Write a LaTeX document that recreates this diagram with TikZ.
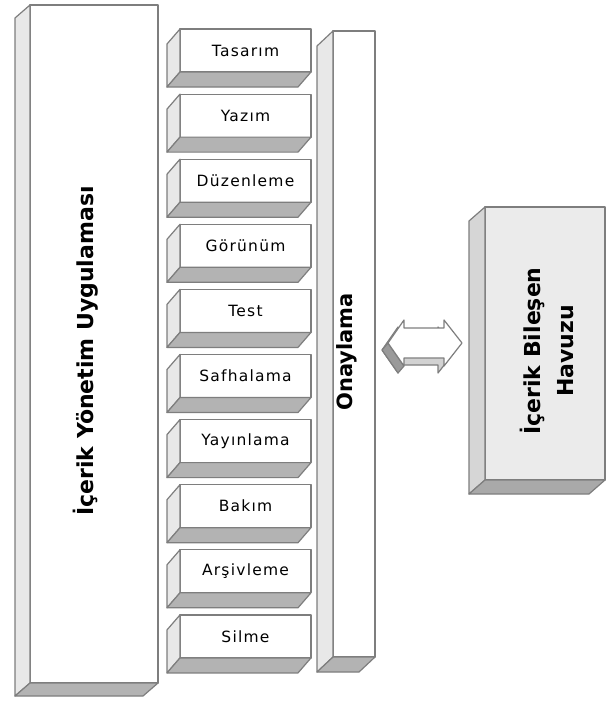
\documentclass[tikz,border=0pt]{standalone}
\usepackage{fontspec}
\setmainfont{DejaVu Sans}
\newfontfamily\lblfont[LetterSpace=8]{DejaVu Sans}
\newfontfamily\ttlfont{DejaVu Sans}
\definecolor{edgec}{HTML}{7E7E7E}
\definecolor{sidec}{HTML}{E8E8E8}
\definecolor{botc}{HTML}{B3B3B3}
\definecolor{poolfront}{HTML}{EBEBEB}
\definecolor{poolside}{HTML}{D6D6D6}
\definecolor{poolbot}{HTML}{A9A9A9}
\definecolor{arrback}{HTML}{D2D2D2}
\definecolor{arrdark}{HTML}{9A9A9A}
\tikzset{
  edge/.style={draw=edgec, line width=1.2pt, line join=round},
  front/.style={edge, fill=white, rectangle, outer sep=0pt, inner sep=0pt},
  smallbox/.style={front, minimum width=131, minimum height=43,
    font=\lblfont\fontsize{15.5}{18}\selectfont},
  bigtext/.style={rotate=90, font=\ttlfont\bfseries\fontsize{22}{33}\selectfont, align=center, inner sep=0pt}
}
\newcommand{\boxdepth}[5]{%
  \filldraw[edge, fill=#4] (#1.north west) -- ([shift={(#2,#3)}]#1.north west)
     -- ([shift={(#2,#3)}]#1.south west) -- (#1.south west) -- cycle;
  \filldraw[edge, fill=#5] (#1.south west) -- ([shift={(#2,#3)}]#1.south west)
     -- ([shift={(#2,#3)}]#1.south east) -- (#1.south east) -- cycle;
}
\begin{document}
\begin{tikzpicture}[x=1pt, y=-1pt]
\useasboundingbox[fill=white] (0,0) rectangle (607,701);

% main application box
\node[front, minimum width=128, minimum height=678] (app) at (94,344) {};
\boxdepth{app}{-15}{13}{sidec}{botc}
\node[bigtext] (apptext) at (86,351) {İçerik Yönetim Uygulaması};

% process steps
\foreach \t [count=\i from 0] in {Tasarım,Yazım,Düzenleme,Görünüm,Test,Safhalama,Yayınlama,Bakım,Arşivleme,Silme}{
  \node[smallbox] (s\i) at (245.5,{50.5+65.1*\i}) {\t};
  \boxdepth{s\i}{-13}{15}{sidec}{botc}
}

% approval column
\node[front, minimum width=42, minimum height=626] (onay) at (354,344) {};
\boxdepth{onay}{-16}{15}{sidec}{botc}
\node[bigtext, font=\ttlfont\bfseries\fontsize{21}{25}\selectfont] (onaytext) at (347,352) {Onaylama};

% component pool
\node[front, fill=poolfront, minimum width=120, minimum height=273] (pool) at (545,343.5) {};
\boxdepth{pool}{-16}{14}{poolside}{poolbot}
\node[bigtext] (pooltext) at (547,351) {İçerik Bileşen\\Havuzu};

% 3D double arrow
\coordinate (ac) at (425,343);
\coordinate (ab) at (419,350);
\filldraw[edge, fill=arrback] ([shift={(-37,0)}]ab) -- ([shift={(-21,-23)}]ab) -- ([shift={(-21,-15)}]ab)
  -- ([shift={(19,-15)}]ab) -- ([shift={(19,-23)}]ab) -- ([shift={(37,0)}]ab)
  -- ([shift={(19,23)}]ab) -- ([shift={(19,15)}]ab) -- ([shift={(-21,15)}]ab)
  -- ([shift={(-21,23)}]ab) -- cycle;
\filldraw[edge, fill=arrdark] ([shift={(-37,0)}]ac) -- ([shift={(-21,23)}]ac)
  -- ([shift={(-21,23)}]ab) -- ([shift={(-37,0)}]ab) -- cycle;
\filldraw[edge, fill=white] ([shift={(-37,0)}]ac) -- ([shift={(-21,-23)}]ac) -- ([shift={(-21,-15)}]ac)
  -- ([shift={(19,-15)}]ac) -- ([shift={(19,-23)}]ac) -- ([shift={(37,0)}]ac)
  -- ([shift={(19,23)}]ac) -- ([shift={(19,15)}]ac) -- ([shift={(-21,15)}]ac)
  -- ([shift={(-21,23)}]ac) -- cycle;
\end{tikzpicture}
\end{document}
